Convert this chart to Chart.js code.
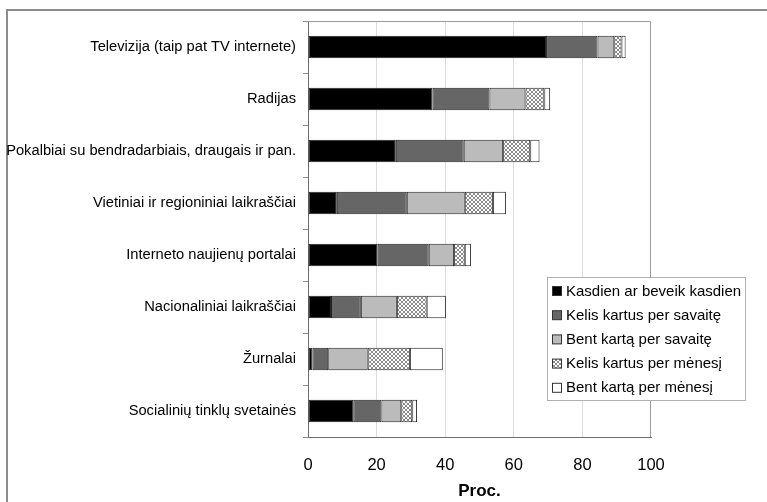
<!DOCTYPE html>
<html>
<head>
<meta charset="utf-8">
<script src="https://cdn.jsdelivr.net/npm/chart.js@4/dist/chart.umd.min.js"></script>
<style>
html,body{margin:0;padding:0;background:#fff;}
#wrap{width:767px;height:502px;position:relative;}
</style>
</head>
<body>
<div id="wrap"><canvas id="c" width="767" height="502"></canvas></div>
<script>
const categories = [
  "Televizija (taip pat TV internete)",
  "Radijas",
  "Pokalbiai su bendradarbiais, draugais ir pan.",
  "Vietiniai ir regioniniai laikraščiai",
  "Interneto naujienų portalai",
  "Nacionaliniai laikraščiai",
  "Žurnalai",
  "Socialinių tinklų svetainės"
];
const seriesNames = [
  "Kasdien ar beveik kasdien",
  "Kelis kartus per savaitę",
  "Bent kartą per savaitę",
  "Kelis kartus per mėnesį",
  "Bent kartą per mėnesį"
];
const daily        = [69.4, 36.3, 25.6, 8.4, 20.3, 6.7, 1.3, 13.2];
const severalWeek  = [15.0, 16.6, 19.8, 20.4, 14.9, 8.7, 4.6, 8.2];
const onceWeek     = [4.9, 10.5, 11.5, 16.9, 7.4, 10.5, 11.5, 5.8];
const severalMonth = [2.1, 5.5, 7.9, 8.2, 3.1, 8.7, 12.3, 3.2];
const onceMonth    = [1.2, 1.7, 2.7, 3.8, 1.8, 5.6, 9.6, 1.4];
const xTicks = [0, 20, 40, 60, 80, 100];
const axisTitle = "Proc.";

// hatch pattern
const pc = document.createElement('canvas');
pc.width = 4; pc.height = 4;
const pctx = pc.getContext('2d');
pctx.fillStyle = '#fff'; pctx.fillRect(0,0,4,4);
pctx.fillStyle = '#8a8a8a';
[[0,0],[1,1],[2,2],[3,3],[3,0],[2,1],[1,2],[0,3]].forEach(p=>pctx.fillRect(p[0],p[1],1,1));
const hatch = document.getElementById('c').getContext('2d').createPattern(pc,'repeat');

const fills = ['#000000', '#666666', '#bbbbbb', hatch, '#ffffff'];
const seriesData = [daily, severalWeek, onceWeek, severalMonth, onceMonth];

const FONT = "'Liberation Sans', Arial, sans-serif";

const framePlugin = {
  id: 'frame',
  beforeDraw(chart) {
    const ctx = chart.ctx;
    ctx.save();
    ctx.strokeStyle = '#8c8c8c';
    ctx.lineWidth = 2;
    ctx.beginPath();
    ctx.moveTo(7, 502); ctx.lineTo(7, 10); ctx.lineTo(767, 10);
    ctx.stroke();
    ctx.restore();
  },
  afterDatasetsDraw(chart) {
    const ctx = chart.ctx, a = chart.chartArea;
    ctx.save();
    ctx.strokeStyle = '#9a9a9a';
    ctx.lineWidth = 1;
    ctx.beginPath();
    ctx.moveTo(a.left, a.top + 0.5); ctx.lineTo(a.right - 0.5, a.top + 0.5); ctx.lineTo(a.right - 0.5, a.bottom);
    ctx.stroke();
    ctx.restore();
  },
  afterDraw(chart) {
    const ctx = chart.ctx;
    const bx = 547, by = 277, bw = 198, bh = 123;
    ctx.save();
    ctx.fillStyle = '#fff';
    ctx.fillRect(bx, by, bw, bh);
    ctx.strokeStyle = '#b0b0b0';
    ctx.lineWidth = 1;
    ctx.strokeRect(bx + 0.5, by + 0.5, bw, bh);
    ctx.font = '15px ' + FONT;
    ctx.textBaseline = 'middle';
    chart.data.datasets.forEach((ds, i) => {
      const cy = 291 + i * 24.2;
      ctx.fillStyle = ds.backgroundColor;
      ctx.fillRect(552, cy - 4.5, 9, 9);
      ctx.strokeStyle = '#333';
      ctx.strokeRect(552.5, cy - 4.5, 9, 9);
      ctx.fillStyle = '#000';
      ctx.fillText(ds.label, 566, cy + 0.5);
    });
    ctx.restore();
  }
};

new Chart(document.getElementById('c'), {
  type: 'bar',
  data: {
    labels: categories,
    datasets: seriesNames.map((n, i) => ({
      label: n,
      data: seriesData[i],
      backgroundColor: fills[i],
      borderColor: '#222',
      borderWidth: 1,
      borderSkipped: false,
      barPercentage: 0.86,
      categoryPercentage: 0.5
    }))
  },
  options: {
    indexAxis: 'y',
    responsive: false,
    animation: false,
    devicePixelRatio: 1,
    layout: { padding: { left: 0, top: 21, right: 116, bottom: 0 } },
    plugins: { legend: { display: false }, tooltip: { enabled: false } },
    scales: {
      x: {
        stacked: true,
        min: 0, max: 100,
        afterBuildTicks(scale) { scale.ticks = xTicks.map(v => ({ value: v })); },
        afterFit(scale) { scale.height = 65; },
        grid: { color: (c) => c.tick && c.tick.value === 100 ? 'rgba(0,0,0,0)' : '#dcdcdc', drawTicks: false },
        border: { color: '#6e6e6e', width: 1 },
        ticks: { color: '#000', font: { family: FONT, size: 16.5 }, padding: 19 },
        title: { display: true, text: axisTitle, color: '#000', font: { family: FONT, size: 17, weight: 'bold' }, padding: { top: 0, bottom: 0 } }
      },
      y: {
        stacked: true,
        afterFit(scale) { scale.width = 308; },
        grid: { offset: true, drawOnChartArea: false, tickLength: 5, color: '#8c8c8c' },
        border: { color: '#6e6e6e', width: 1 },
        ticks: { color: '#000', font: { family: FONT, size: 14.7 }, padding: 7, autoSkip: false }
      }
    }
  },
  plugins: [framePlugin]
});
</script>
</body>
</html>
